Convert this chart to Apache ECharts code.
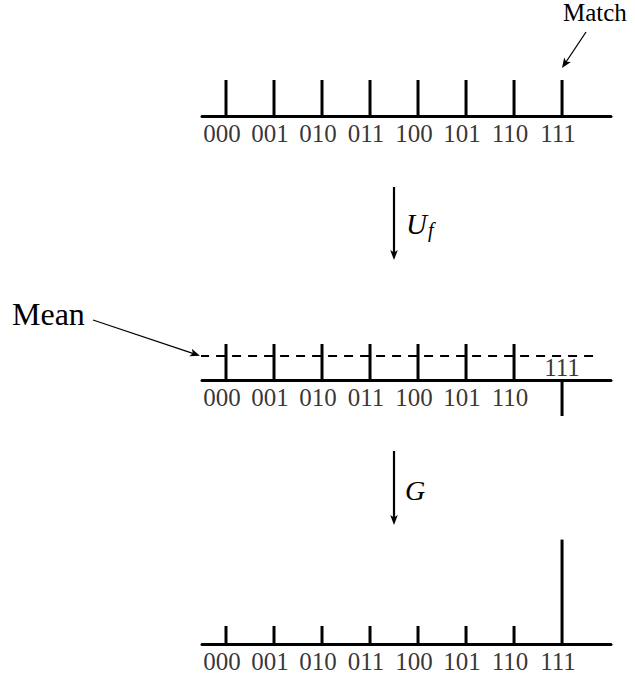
<!DOCTYPE html>
<html>
<head>
<meta charset="utf-8">
<script src="https://cdn.jsdelivr.net/npm/echarts/dist/echarts.min.js"></script>
<style>
html,body{margin:0;padding:0;background:#fff;}
#chart{width:635px;height:677px;}
</style>
</head>
<body>
<div id="chart"></div>
<script>
// ---- data ----
const states = ['000', '001', '010', '011', '100', '101', '110', '111'];
const ampInitial = [1, 1, 1, 1, 1, 1, 1, 1];
const ampOracle = [1, 1, 1, 1, 1, 1, 1, -1];
const ampGrover = [0.5, 0.5, 0.5, 0.5, 0.5, 0.5, 0.5, 2.9];
const meanAmp = 0.67;
const meanSpan = [-0.54, 7.65];

const FONT = 'Liberation Serif';
const chart = echarts.init(document.getElementById('chart'), null, {renderer: 'svg'});

const gridDefs = [
  {left: 202, width: 409, top: 8, height: 126, yMin: -0.5, yMax: 3},
  {left: 202, width: 409, top: 308, height: 126, yMin: -1.5, yMax: 2},
  {left: 202, width: 409, top: 536, height: 126, yMin: -0.5, yMax: 3}
];
const panels = [ampInitial, ampOracle, ampGrover];

const grid = gridDefs.map(g => ({left: g.left, width: g.width, top: g.top, height: g.height}));
const xAxis = gridDefs.map((g, i) => ({
  type: 'value', gridIndex: i, min: -0.5, max: 8.02,
  axisLine: {show: true, onZero: true, lineStyle: {color: '#000', width: 3}},
  axisTick: {show: false}, axisLabel: {show: false}, splitLine: {show: false}
}));
const yAxis = gridDefs.map((g, i) => ({
  type: 'value', gridIndex: i, min: g.yMin, max: g.yMax, show: false,
  splitLine: {show: false}
}));

const series = [];
panels.forEach((amps, i) => {
  series.push({
    type: 'bar', xAxisIndex: i, yAxisIndex: i, barWidth: 3,
    itemStyle: {color: '#000'}, silent: true,
    data: amps.map((v, k) => [k, v])
  });
  series.push({
    type: 'scatter', xAxisIndex: i, yAxisIndex: i, symbolSize: 1,
    itemStyle: {color: 'rgba(0,0,0,0)'}, silent: true, z: 5,
    label: {show: true, position: 'inside', color: '#000', fontFamily: FONT, fontSize: 25,
      formatter: p => states[p.dataIndex]},
    data: amps.map((v, k) => ({
      value: [k, 0],
      label: {offset: v < 0 ? [0, -12.5] : [-4, 17]}
    }))
  });
});
// mean line in the oracle panel
series.push({
  type: 'line', xAxisIndex: 1, yAxisIndex: 1, symbol: 'none', silent: true, z: 1,
  lineStyle: {color: '#000', width: 2, type: [9, 7]},
  data: meanSpan.map(x => [x, meanAmp])
});

function arrow(x1, y1, x2, y2, w, len, hw) {
  const dx = x2 - x1, dy = y2 - y1, L = Math.hypot(dx, dy);
  const ux = dx / L, uy = dy / L, nx = -uy, ny = ux;
  const bx = x2 - ux * len, by = y2 - uy * len;
  return [
    {type: 'line', shape: {x1: x1, y1: y1, x2: x2 - ux * len * 0.6, y2: y2 - uy * len * 0.6},
      style: {stroke: '#000', lineWidth: w}},
    {type: 'polygon', shape: {points: [[x2, y2], [bx + nx * hw, by + ny * hw], [bx + ux * len * 0.25, by + uy * len * 0.25], [bx - nx * hw, by - ny * hw]]},
      style: {fill: '#000'}}
  ];
}

const graphic = [].concat(
  arrow(586, 32, 562, 68, 1.3, 10, 4),
  arrow(93, 320, 200, 355.7, 1.3, 10, 4),
  arrow(394, 187, 394, 260, 2.2, 10, 3.8),
  arrow(394, 451, 394, 525, 2.2, 10, 3.8),
  [
    {type: 'text', left: 563, top: 0, style: {text: 'Match', font: '25px "Liberation Serif"', fill: '#000'}},
    {type: 'text', x: 12, y: 314, style: {text: 'Mean', font: '32px "Liberation Serif"', fill: '#000', verticalAlign: 'middle'}},
    {type: 'text', x: 406, y: 224, style: {
      text: '{u|U}{s|f}', verticalAlign: 'middle', fill: '#000',
      rich: {
        u: {fontFamily: FONT, fontStyle: 'italic', fontSize: 29, verticalAlign: 'middle'},
        s: {fontFamily: FONT, fontStyle: 'italic', fontSize: 20, padding: [12, 0, 0, 1]}
      }
    }},
    {type: 'text', x: 405, y: 490, style: {text: 'G', font: 'italic 28px "Liberation Serif"', fill: '#000', verticalAlign: 'middle'}}
  ]
);

chart.setOption({
  animation: false,
  backgroundColor: '#fff',
  grid: grid, xAxis: xAxis, yAxis: yAxis, series: series, graphic: graphic
});
</script>
</body>
</html>
